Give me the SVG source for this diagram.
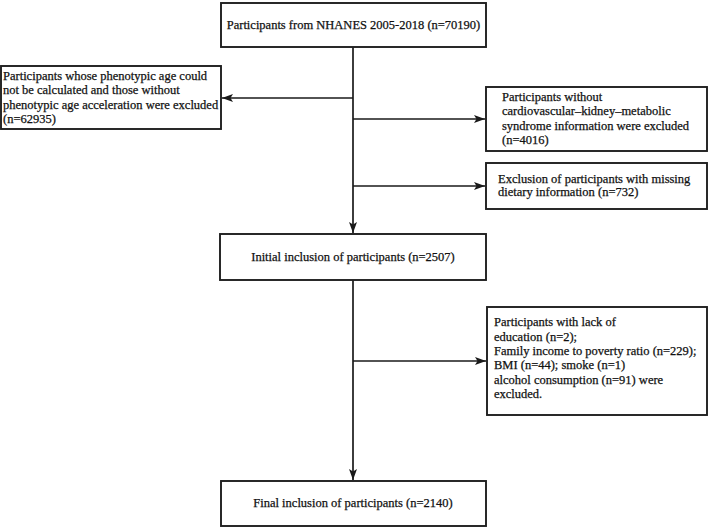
<svg xmlns="http://www.w3.org/2000/svg" width="709" height="527" viewBox="0 0 709 527">
<defs>
<marker id="ah" markerUnits="userSpaceOnUse" markerWidth="12" markerHeight="10" refX="11" refY="5" orient="auto">
<path d="M0,1 L11,5 L0,9 L2.5,5 Z" fill="#1a1a1a"/>
</marker>
<style>
.box{fill:#fff;stroke:#1f1f1f;stroke-width:1.9}
.t{font-family:"Liberation Serif","Times New Roman",serif;font-size:12.5px;fill:#111;stroke:#111;stroke-width:0.25}
.c{text-anchor:middle}
.ln{fill:none;stroke:#1a1a1a;stroke-width:1.7}
</style>
</defs>
<rect width="709" height="527" fill="#fff"/>
<g id="connectors">
<line class="ln" x1="353" y1="47" x2="353" y2="233" marker-end="url(#ah)"/>
<line class="ln" x1="353" y1="98" x2="222" y2="98" marker-end="url(#ah)"/>
<line class="ln" x1="353" y1="119" x2="485" y2="119" marker-end="url(#ah)"/>
<line class="ln" x1="353" y1="186" x2="485" y2="186" marker-end="url(#ah)"/>
<line class="ln" x1="353" y1="280" x2="353" y2="480" marker-end="url(#ah)"/>
<line class="ln" x1="353" y1="361" x2="486" y2="361" marker-end="url(#ah)"/>
</g>
<g id="n-start">
<rect class="box" x="221" y="3" width="265" height="44"/>
<text class="t c" x="353.5" y="29">Participants from NHANES 2005-2018 (n=70190)</text>
</g>
<g id="n-excl-phenoage">
<rect class="box" x="1" y="66" width="220" height="63"/>
<text class="t" x="3" y="79.5">Participants whose phenotypic age could</text>
<text class="t" x="3" y="94">not be calculated and those without</text>
<text class="t" x="3" y="108.5">phenotypic age acceleration were excluded</text>
<text class="t" x="3" y="123">(n=62935)</text>
</g>
<g id="n-excl-ckm">
<rect class="box" x="486" y="87" width="221" height="64"/>
<text class="t" x="502" y="100.5">Participants without</text>
<text class="t" x="502" y="115">cardiovascular–kidney–metabolic</text>
<text class="t" x="502" y="129.5">syndrome information were excluded</text>
<text class="t" x="502" y="144">(n=4016)</text>
</g>
<g id="n-excl-diet">
<rect class="box" x="486" y="163" width="221" height="46"/>
<text class="t" x="498" y="183">Exclusion of participants with missing</text>
<text class="t" x="498" y="196">dietary information (n=732)</text>
</g>
<g id="n-initial">
<rect class="box" x="220" y="234" width="266" height="46"/>
<text class="t c" x="353" y="261">Initial inclusion of participants (n=2507)</text>
</g>
<g id="n-excl-cov">
<rect class="box" x="487" y="307" width="220" height="108"/>
<text class="t" x="494" y="326">Participants with lack of</text>
<text class="t" x="494" y="340.5">education (n=2);</text>
<text class="t" x="494" y="355">Family income to poverty ratio (n=229);</text>
<text class="t" x="494" y="369">BMI (n=44); smoke (n=1)</text>
<text class="t" x="494" y="383.5">alcohol consumption (n=91) were</text>
<text class="t" x="494" y="398">excluded.</text>
</g>
<g id="n-final">
<rect class="box" x="221" y="481" width="265" height="45"/>
<text class="t c" x="353" y="507">Final inclusion of participants (n=2140)</text>
</g>
</svg>
